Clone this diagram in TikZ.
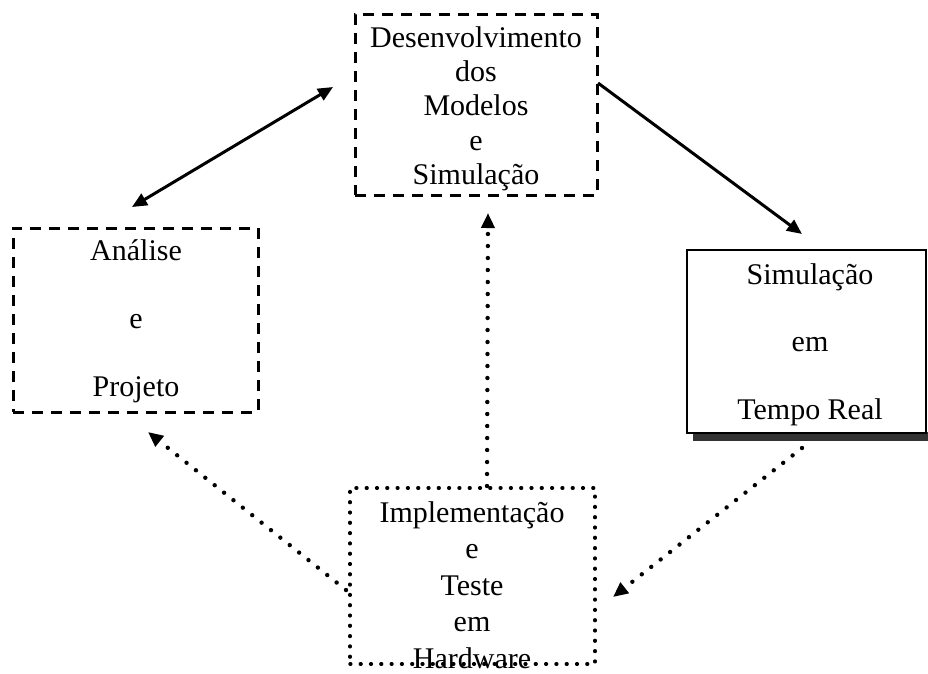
\documentclass[tikz,border=0pt]{standalone}
\usepackage{fontspec}
\setmainfont{Liberation Serif}
\usetikzlibrary{arrows.meta}

\tikzset{
  dashbox/.style={draw, rectangle, inner sep=0pt, line width=3pt,
    dash pattern=on 11pt off 8pt},
  dotbox/.style={draw, rectangle, inner sep=0pt, line width=3.4pt,
    line cap=round, dash pattern=on 0.8pt off 9.5pt},
  solidbox/.style={draw, rectangle, inner sep=0pt, line width=2.4pt},
  label/.style={align=center, inner sep=0pt, font=\fontsize{30}{34.3}\selectfont},
  wide/.style={align=center, inner sep=0pt, font=\fontsize{30}{68}\selectfont},
  link/.style={line width=3pt},
  dotlink/.style={line width=4.4pt, line cap=round, dash pattern=on 0pt off 12pt},
  headend/.style={-{Triangle[length=15pt,width=13pt]}},
  headboth/.style={{Triangle[length=15pt,width=13pt]}-{Triangle[length=15pt,width=13pt]}},
}

\begin{document}
\begin{tikzpicture}[x=1pt, y=-1pt]
  \useasboundingbox (0,0) rectangle (928,673);

  % boxes
  \node[dashbox, minimum width=242pt, minimum height=181pt] (dev) at (476,104.5) {};
  \node[label] (devt) at (476,108.5) {Desenvolvimento\\dos\\Modelos\\e\\Simulação};

  \node[dashbox, minimum width=245pt, minimum height=184pt] (ana) at (135.5,320) {};
  \node[wide] (anat) at (136,321.5) {Análise\\e\\Projeto};

  \fill[black!80] (693,432) rectangle (928,441);
  \node[solidbox, minimum width=239pt, minimum height=183pt] (rt) at (806.5,341.5) {};
  \node[wide, font=\fontsize{30}{67.5}\selectfont] (rtt) at (810,344.5) {Simulação\\em\\Tempo Real};

  \node[dotbox, minimum width=245pt, minimum height=176pt] (imp) at (472.5,576) {};
  \node[label, font=\fontsize{30}{36.5}\selectfont] (impt) at (472,585) {Implementação\\e\\Teste\\em\\Hardware};

  % connector end points
  \coordinate (a1) at (132,207);
  \coordinate (a2) at (333,87);
  \coordinate (b1) at (598,83);
  \coordinate (b2) at (802,234);
  \coordinate (c1) at (487,486);
  \coordinate (c2) at (488,213);
  \coordinate (d1) at (346,590);
  \coordinate (d2) at (148,432);
  \coordinate (e1) at (802,448);
  \coordinate (e2) at (613,597);

  % connectors
  \draw[link, headboth] (a1) -- (a2);
  \draw[link, headend] (b1) -- (b2);
  \draw[dotlink, headend] (c1) -- (c2);
  \draw[dotlink, headend] (d1) -- (d2);
  \draw[dotlink, headend] (e1) -- (e2);
\end{tikzpicture}
\end{document}
